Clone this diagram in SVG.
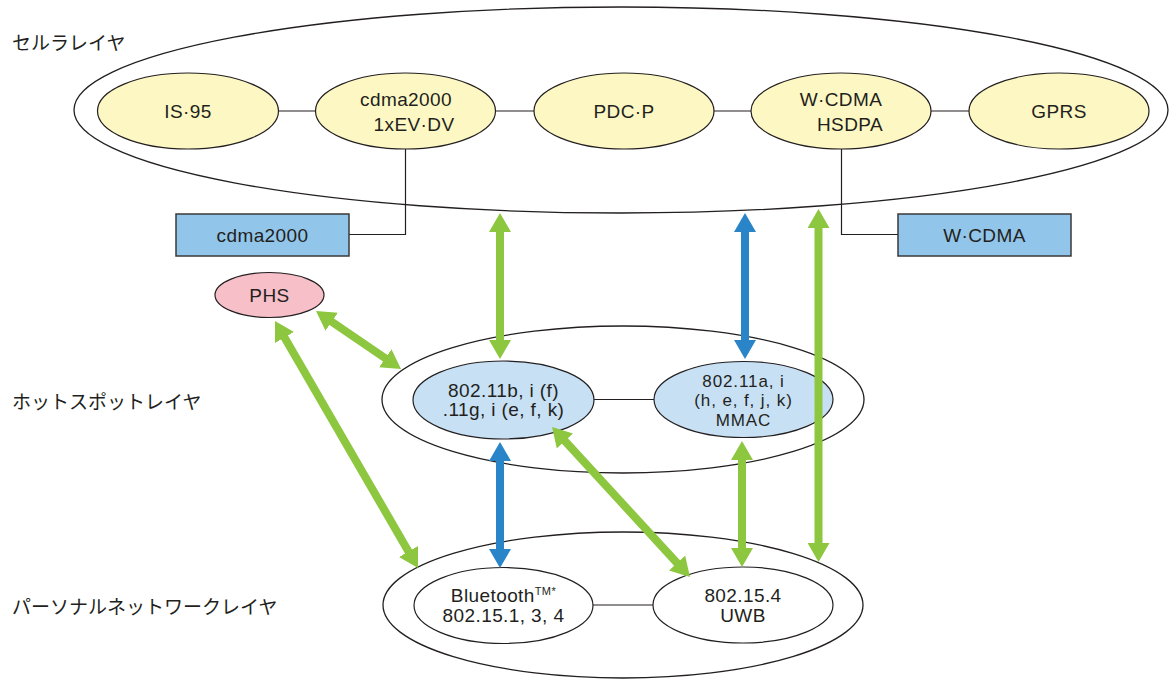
<svg xmlns="http://www.w3.org/2000/svg" width="1170" height="679" viewBox="0 0 1170 679">
<style>
.bg{fill:#ffffff}
.outer{fill:none;stroke:#231f20;stroke-width:1.3}
.cell{fill:#fdf8c3;stroke:#231f20;stroke-width:1.2}
.hot{fill:#c7e0f4;stroke:#231f20;stroke-width:1.2}
.pan{fill:#ffffff;stroke:#231f20;stroke-width:1.2}
.box{fill:#92c5ea;stroke:#3a3a3a;stroke-width:1.5}
.phs{fill:#f7c0c8;stroke:#231f20;stroke-width:1.2}
.link{fill:none;stroke:#231f20;stroke-width:1.2}
.g{stroke:#8dc63f;stroke-width:8;fill:none}
.b{stroke:#2985c8;stroke-width:8;fill:none}
.t{font-family:"Liberation Sans",Arial,sans-serif;font-size:19px;letter-spacing:0.4px;fill:#231f20;text-anchor:middle}
.s{font-size:17px;letter-spacing:0.9px}
.jp{font-family:"Noto Sans CJK JP",sans-serif;font-size:19px;fill:#231f20}
</style>
<defs>
<marker id="hg" markerUnits="userSpaceOnUse" markerWidth="19" markerHeight="22" refX="4" refY="11" orient="auto-start-reverse" viewBox="0 0 19 22"><path d="M0,0 L19,11 L0,22 z" fill="#8dc63f"/></marker>
<marker id="hb" markerUnits="userSpaceOnUse" markerWidth="19" markerHeight="22" refX="4" refY="11" orient="auto-start-reverse" viewBox="0 0 19 22"><path d="M0,0 L19,11 L0,22 z" fill="#2985c8"/></marker>
</defs>
<rect class="bg" x="0" y="0" width="1170" height="679"/>

<g id="layer-labels">
<text class="jp" x="12" y="50">セルラレイヤ</text>
<text class="jp" x="12" y="409">ホットスポットレイヤ</text>
<text class="jp" x="12" y="614">パーソナルネットワークレイヤ</text>
</g>

<g id="cellular-layer"><ellipse class="outer" cx="621" cy="110" rx="547" ry="103"/></g>
<g id="hotspot-layer"><ellipse class="outer" cx="623" cy="399.5" rx="241" ry="73.5"/></g>
<g id="personal-layer"><ellipse class="outer" cx="623" cy="605" rx="240" ry="73"/></g>

<g id="links">
<line class="link" x1="278" y1="111" x2="316" y2="111"/>
<line class="link" x1="496" y1="111" x2="534" y2="111"/>
<line class="link" x1="714" y1="111" x2="751" y2="111"/>
<line class="link" x1="931" y1="111" x2="969" y2="111"/>
<polyline class="link" points="405.5,149 405.5,234.5 349,234.5"/>
<polyline class="link" points="841.5,149 841.5,234.5 898,234.5"/>
<line class="link" x1="594" y1="399.5" x2="654" y2="399.5"/>
<line class="link" x1="593" y1="605" x2="653" y2="605"/>
</g>

<g id="is95"><ellipse class="cell" cx="188" cy="111" rx="90.5" ry="38"/><text class="t" x="188" y="118">IS·95</text></g>
<g id="cdma2000-1xevdv"><ellipse class="cell" cx="405.5" cy="111" rx="90" ry="38"/><text class="t" x="406" y="106">cdma2000</text><text class="t" x="414" y="131">1xEV·DV</text></g>
<g id="pdcp"><ellipse class="cell" cx="624" cy="111" rx="90" ry="38"/><text class="t" x="624" y="118">PDC·P</text></g>
<g id="wcdma-hsdpa"><ellipse class="cell" cx="841" cy="111" rx="90" ry="38"/><text class="t" x="841" y="106">W·CDMA</text><text class="t" x="850" y="131">HSDPA</text></g>
<g id="gprs"><ellipse class="cell" cx="1059" cy="111" rx="90" ry="38"/><text class="t" x="1059" y="118">GPRS</text></g>

<g id="cdma2000-box"><rect class="box" x="176" y="214" width="173" height="42"/><text class="t" x="262.5" y="241.5">cdma2000</text></g>
<g id="wcdma-box"><rect class="box" x="898" y="214" width="173" height="42"/><text class="t" x="984.5" y="241.5">W·CDMA</text></g>

<g id="phs"><ellipse class="phs" cx="269.5" cy="295" rx="54.5" ry="22.5"/><text class="t" x="269.5" y="301.5">PHS</text></g>

<g id="wlan-bg"><ellipse class="hot" cx="503.5" cy="400" rx="90.5" ry="39"/><text class="t" x="503.5" y="397">802.11b, i (f)</text><text class="t" x="503.5" y="416">.11g, i (e, f, k)</text></g>
<g id="wlan-a"><ellipse class="hot" cx="743.5" cy="399.5" rx="89.5" ry="38"/><text class="t s" x="743.5" y="386.5">802.11a, i</text><text class="t s" x="743.5" y="406">(h, e, f, j, k)</text><text class="t s" x="743.5" y="425.5">MMAC</text></g>

<g id="bluetooth"><ellipse class="pan" cx="503.5" cy="605.5" rx="89.5" ry="38"/><text class="t" x="503.5" y="602">Bluetooth<tspan font-size="11" baseline-shift="7">TM*</tspan></text><text class="t" x="503.5" y="622">802.15.1, 3, 4</text></g>
<g id="uwb"><ellipse class="pan" cx="743" cy="605" rx="90" ry="38"/><text class="t" x="743" y="602">802.15.4</text><text class="t" x="743" y="622">UWB</text></g>

<g id="connectors">
<line class="g" x1="500" y1="228" x2="500" y2="344" marker-start="url(#hg)" marker-end="url(#hg)"/>
<line class="b" x1="745" y1="228" x2="745" y2="344" marker-start="url(#hb)" marker-end="url(#hb)"/>
<line class="g" x1="818.5" y1="224" x2="818.5" y2="547" marker-start="url(#hg)" marker-end="url(#hg)"/>
<line class="g" x1="328.4" y1="319.5" x2="388.6" y2="360.5" marker-start="url(#hg)" marker-end="url(#hg)"/>
<line class="g" x1="282.5" y1="334" x2="410.5" y2="555" marker-start="url(#hg)" marker-end="url(#hg)"/>
<line class="b" x1="500" y1="457" x2="500" y2="553" marker-start="url(#hb)" marker-end="url(#hb)"/>
<line class="g" x1="562.2" y1="438" x2="679.8" y2="566" marker-start="url(#hg)" marker-end="url(#hg)"/>
<line class="g" x1="742" y1="456" x2="742" y2="552" marker-start="url(#hg)" marker-end="url(#hg)"/>
</g>
</svg>
